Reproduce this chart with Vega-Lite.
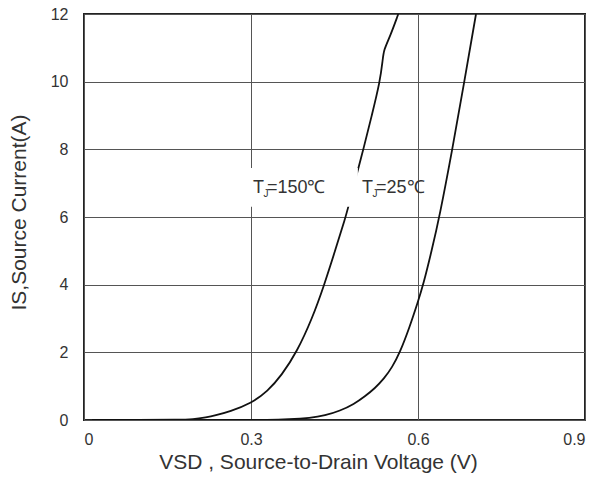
{
  "$schema": "https://vega.github.io/schema/vega-lite/v6.json",
  "width": 501,
  "height": 406,
  "autosize": {"type": "none"},
  "padding": {"left": 84, "top": 14, "right": 12, "bottom": 57},
  "background": "white",
  "config": {
    "view": {"stroke": "#222", "strokeWidth": 2},
    "axis": {
      "domain": false,
      "ticks": false,
      "tickSize": 0,
      "grid": true,
      "gridColor": "#555",
      "gridWidth": 1,
      "labelFont": "Liberation Sans",
      "labelFontSize": 16,
      "labelColor": "#333",
      "titleFont": "Liberation Sans",
      "titleFontSize": 21,
      "titleFontWeight": "normal",
      "titleColor": "#333"
    }
  },
  "layer": [
    {
      "data": {
        "values": [
          {"v": 0.015, "i": 0, "s": "150"},
          {"v": 0.1, "i": 0, "s": "150"},
          {"v": 0.17, "i": 0.005, "s": "150"},
          {"v": 0.196, "i": 0.02, "s": "150"},
          {"v": 0.22, "i": 0.08, "s": "150"},
          {"v": 0.235, "i": 0.13, "s": "150"},
          {"v": 0.262, "i": 0.25, "s": "150"},
          {"v": 0.3, "i": 0.49, "s": "150"},
          {"v": 0.33, "i": 0.85, "s": "150"},
          {"v": 0.355, "i": 1.32, "s": "150"},
          {"v": 0.382, "i": 2.0, "s": "150"},
          {"v": 0.41, "i": 3.0, "s": "150"},
          {"v": 0.4317, "i": 4.0, "s": "150"},
          {"v": 0.451, "i": 5.0, "s": "150"},
          {"v": 0.47, "i": 6.0, "s": "150"},
          {"v": 0.4748, "i": 6.3, "s": "150"},
          {"v": 0.4928, "i": 7.44, "s": "150"},
          {"v": 0.5018, "i": 8.0, "s": "150"},
          {"v": 0.517, "i": 9.0, "s": "150"},
          {"v": 0.5317, "i": 10.0, "s": "150"},
          {"v": 0.5366, "i": 10.64, "s": "150"},
          {"v": 0.5385, "i": 10.94, "s": "150"},
          {"v": 0.5497, "i": 11.33, "s": "150"},
          {"v": 0.5646, "i": 12.0, "s": "150"},
          {"v": 0.015, "i": 0, "s": "25"},
          {"v": 0.3, "i": 0, "s": "25"},
          {"v": 0.325, "i": 0.0, "s": "25"},
          {"v": 0.37, "i": 0.02, "s": "25"},
          {"v": 0.406, "i": 0.06, "s": "25"},
          {"v": 0.4329, "i": 0.13, "s": "25"},
          {"v": 0.4599, "i": 0.27, "s": "25"},
          {"v": 0.485, "i": 0.47, "s": "25"},
          {"v": 0.5048, "i": 0.7, "s": "25"},
          {"v": 0.5227, "i": 0.94, "s": "25"},
          {"v": 0.5389, "i": 1.22, "s": "25"},
          {"v": 0.5533, "i": 1.55, "s": "25"},
          {"v": 0.5677, "i": 2.0, "s": "25"},
          {"v": 0.585, "i": 2.75, "s": "25"},
          {"v": 0.6, "i": 3.5, "s": "25"},
          {"v": 0.6095, "i": 4.0, "s": "25"},
          {"v": 0.6245, "i": 5.0, "s": "25"},
          {"v": 0.6385, "i": 6.0, "s": "25"},
          {"v": 0.6617, "i": 8.0, "s": "25"},
          {"v": 0.6832, "i": 10.0, "s": "25"},
          {"v": 0.7042, "i": 12.0, "s": "25"}
        ]
      },
      "mark": {"type": "line", "color": "#111", "strokeWidth": 1.8, "interpolate": "basis", "clip": true},
      "encoding": {
        "x": {
          "field": "v",
          "type": "quantitative",
          "scale": {"domain": [0, 0.9], "nice": false, "zero": false},
          "axis": {
            "values": [0, 0.3, 0.6, 0.9],
            "format": "~g",
            "labelPadding": 11,
            "title": "VSD , Source-to-Drain  Voltage (V)",
            "titleX": 234,
            "titleY": 48,
            "titleAlign": "center",
            "titleBaseline": "alphabetic"
          }
        },
        "y": {
          "field": "i",
          "type": "quantitative",
          "scale": {"domain": [0, 12], "nice": false, "zero": false},
          "axis": {
            "values": [0, 2, 4, 6, 8, 10, 12],
            "labelPadding": 16,
            "title": "IS,Source Current(A)",
            "titleAngle": -90,
            "titleX": -59,
            "titleY": 198,
            "titleAlign": "center",
            "titleBaseline": "alphabetic"
          }
        },
        "detail": {"field": "s"}
      }
    },
    {
      "data": {"values": [{"v": 0.289, "v2": 0.492, "i": 6.3, "i2": 7.45}]},
      "mark": {"type": "rect", "fill": "white", "stroke": null},
      "encoding": {
        "x": {"field": "v", "type": "quantitative"},
        "x2": {"field": "v2"},
        "y": {"field": "i", "type": "quantitative"},
        "y2": {"field": "i2"}
      }
    },
    {
      "data": {"values": [
        {"v": 0.3035, "i": 6.71, "t": "T", "sub": "J", "rest": "=150℃"},
        {"v": 0.4995, "i": 6.71, "t": "T", "sub": "J", "rest": "=25℃"}
      ]},
      "layer": [
        {
          "mark": {"type": "text", "align": "left", "baseline": "alphabetic", "font": "Liberation Sans", "fontSize": 18, "color": "#333"},
          "encoding": {
            "x": {"field": "v", "type": "quantitative"},
            "y": {"field": "i", "type": "quantitative"},
            "text": {"field": "t"}
          }
        },
        {
          "mark": {"type": "text", "align": "left", "baseline": "alphabetic", "font": "Liberation Sans", "fontSize": 10, "dx": 10.5, "dy": 4, "color": "#333"},
          "encoding": {
            "x": {"field": "v", "type": "quantitative"},
            "y": {"field": "i", "type": "quantitative"},
            "text": {"field": "sub"}
          }
        },
        {
          "mark": {"type": "text", "align": "left", "baseline": "alphabetic", "font": "Liberation Sans", "fontSize": 18, "dx": 14, "color": "#333"},
          "encoding": {
            "x": {"field": "v", "type": "quantitative"},
            "y": {"field": "i", "type": "quantitative"},
            "text": {"field": "rest"}
          }
        }
      ]
    }
  ]
}
